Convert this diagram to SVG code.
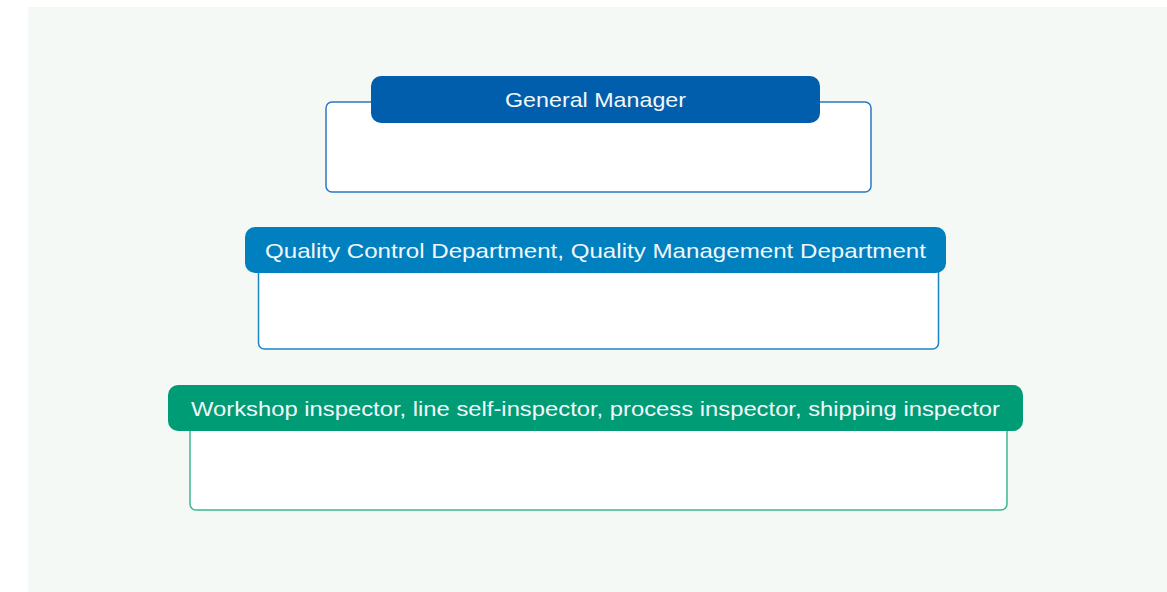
<svg xmlns="http://www.w3.org/2000/svg" width="1167" height="592" viewBox="0 0 1167 592">
<style>
.body{fill:#ffffff;stroke-width:1.5}
.lbl{font-family:"Liberation Sans","DejaVu Sans",sans-serif;font-size:21px;fill:#f2f7fb;text-anchor:middle}
</style>
<rect x="0" y="0" width="1167" height="592" fill="#ffffff"/>
<rect x="28" y="7" width="1139" height="585" fill="#f5f9f5"/>
<g id="connectors"></g>
<g id="node-general-manager">
<rect class="body" x="326" y="102" width="545" height="90" rx="6" stroke="#2a78c4"/>
<rect x="371" y="76" width="449" height="47" rx="10" fill="#005eac"/>
<text class="lbl" x="595.5" y="106.5" textLength="181" lengthAdjust="spacingAndGlyphs">General Manager</text>
</g>
<g id="node-quality-departments">
<rect class="body" x="258.5" y="255" width="680" height="94" rx="6" stroke="#1a86c4"/>
<rect x="245" y="227" width="701" height="46" rx="10" fill="#0080bf"/>
<text class="lbl" x="595.5" y="257.5" textLength="661" lengthAdjust="spacingAndGlyphs">Quality Control Department, Quality Management Department</text>
</g>
<g id="node-inspectors">
<rect class="body" x="190" y="415" width="817" height="95" rx="6" stroke="#3ab894"/>
<rect x="168" y="385" width="855" height="46" rx="10" fill="#009c75"/>
<text class="lbl" x="595.5" y="415.5" textLength="809" lengthAdjust="spacingAndGlyphs">Workshop inspector, line self-inspector, process inspector, shipping inspector</text>
</g>
</svg>
